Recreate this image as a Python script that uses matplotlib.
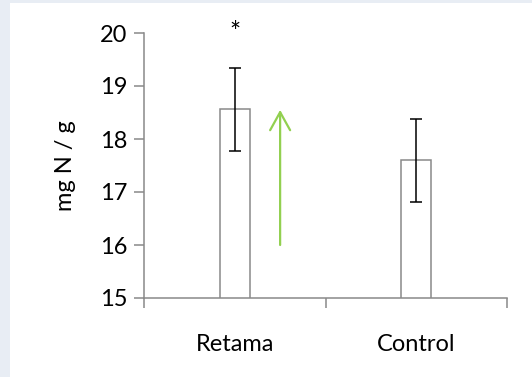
import numpy as np
import matplotlib
matplotlib.use("Agg")
import matplotlib.pyplot as plt
from matplotlib.patches import Rectangle

# data
categories = ["Retama", "Control"]
means = [18.56, 17.60]
errors = [0.78, 0.78]
arrow_from = 16.0
arrow_to = 18.55
star_y = 20.12

plt.rcParams['font.family'] = ['Lato', 'DejaVu Sans']
FS = 17

fig = plt.figure(figsize=(5.32, 3.77), dpi=100)
fig.patch.set_facecolor("#e8edf4")
# white panel behind the chart
fig.patches.append(Rectangle((10 / 532, 0), 1, 1 - 3 / 377, transform=fig.transFigure,
                             facecolor="white", edgecolor="none", zorder=-5))

ax = fig.add_axes([144 / 532, 79 / 377, 363 / 532, 265 / 377])
ax.set_facecolor("none")

x = np.arange(len(categories))
gray = "#898989"
ax.bar(x, means, width=0.166, bottom=0, color="white", edgecolor=gray, linewidth=1.1, zorder=2)
ax.errorbar(x, means, yerr=errors, fmt="none", ecolor="black", elinewidth=1.1,
            capsize=4.2, capthick=1.1, zorder=3)

# green arrow
ax.annotate("", xy=(0.25, arrow_to), xytext=(0.25, arrow_from),
            arrowprops=dict(arrowstyle="->,head_length=1.3,head_width=0.72",
                            color="#92d050", lw=1.6, shrinkA=0, shrinkB=0))
ax.annotate("*", xy=(0, star_y), xytext=(0, -5), textcoords="offset points",
            ha="center", va="center", fontsize=FS + 2, annotation_clip=False)

ax.set_ylim(15, 20)
ax.set_xlim(-0.5, 1.5)
ax.set_yticks([15, 16, 17, 18, 19, 20])
ax.set_xticks([-0.5, 0.5, 1.5])
ax.set_xticklabels([])
ax.set_xticks(x, minor=True)
ax.set_xticklabels(categories, minor=True)
ax.tick_params(axis="x", which="minor", length=0, pad=26, labelsize=FS)
ax.tick_params(axis="x", which="major", length=7, width=1.1, color=gray, direction="out")
ax.tick_params(axis="y", length=7, width=1.1, color=gray, labelsize=FS, pad=5)

for s in ["top", "right"]:
    ax.spines[s].set_visible(False)
for s in ["left", "bottom"]:
    ax.spines[s].set_color(gray)
    ax.spines[s].set_linewidth(1.1)

ax.set_ylabel("mg N / g", fontsize=FS, labelpad=17)

fig.savefig("out.png", dpi=100, facecolor=fig.get_facecolor())
